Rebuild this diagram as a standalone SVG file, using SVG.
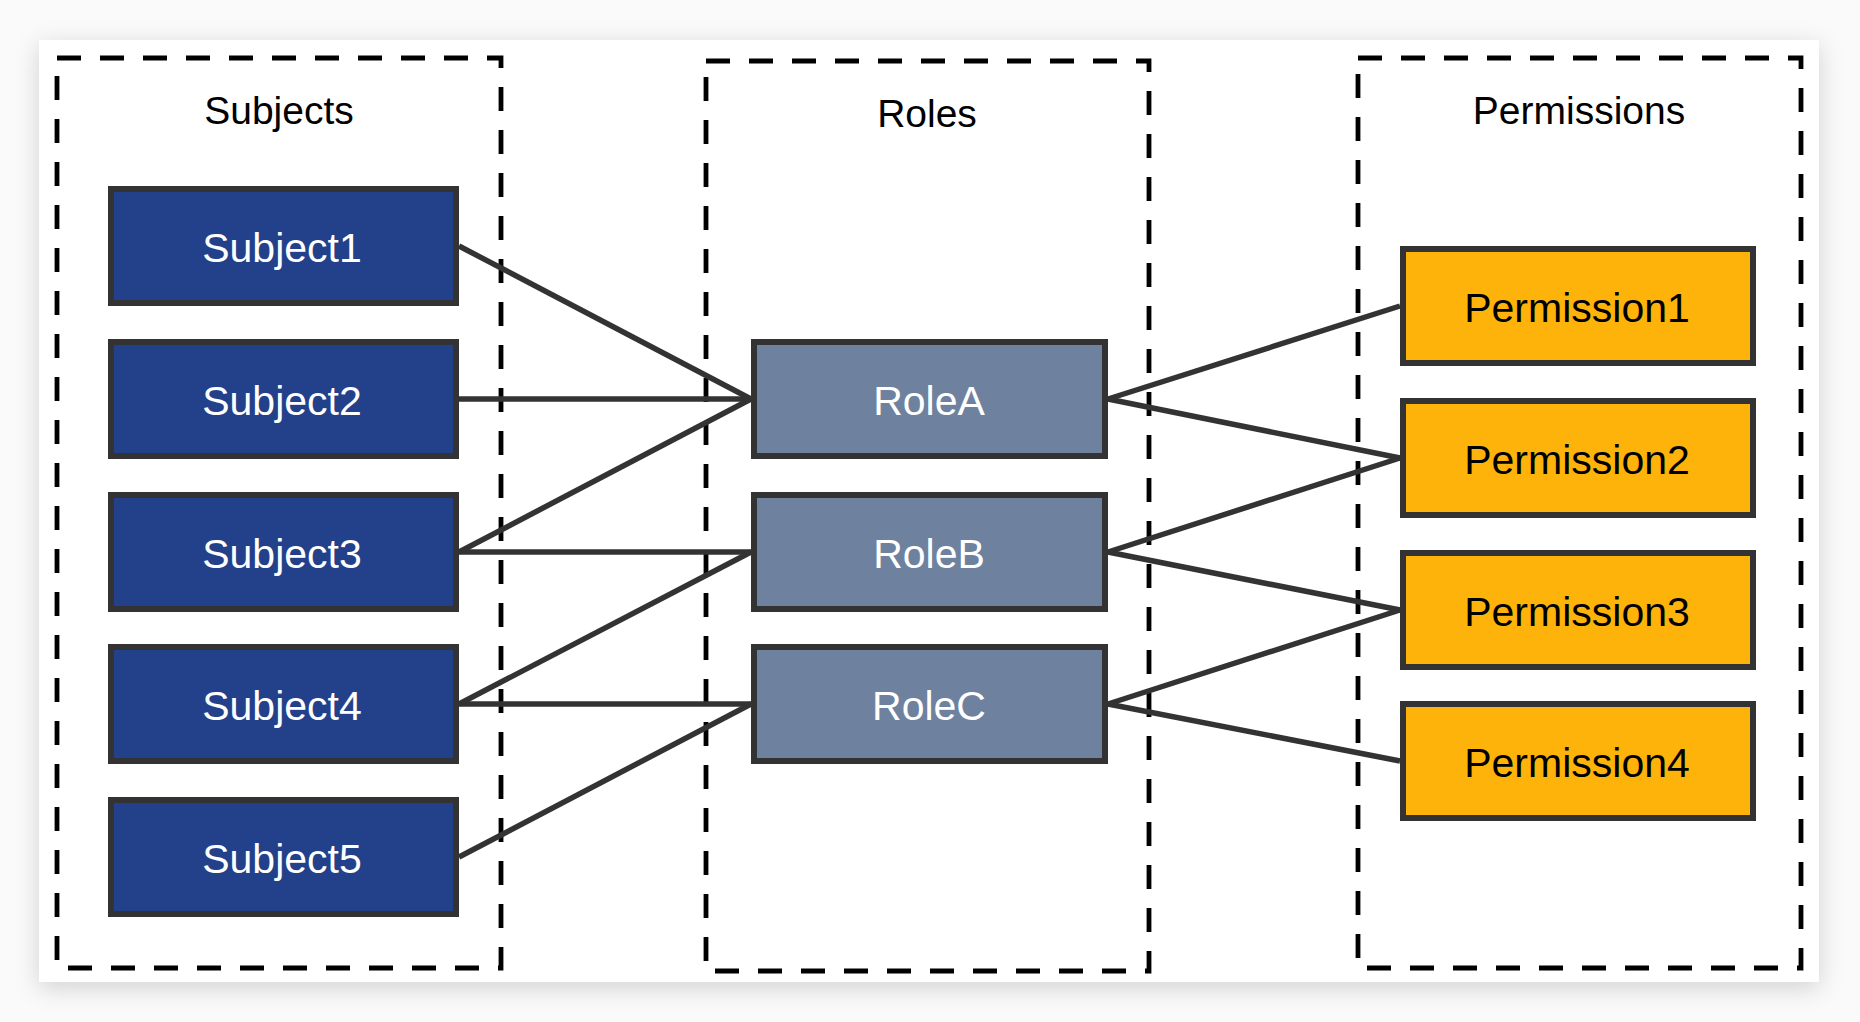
<svg xmlns="http://www.w3.org/2000/svg" width="1860" height="1022" viewBox="0 0 1860 1022">
  <defs>
    <filter id="cardShadow" x="-5%" y="-5%" width="110%" height="115%">
      <feDropShadow dx="0" dy="6" stdDeviation="12" flood-color="#000" flood-opacity="0.16"/>
    </filter>
    <style>
      .group { fill: none; stroke: #000; stroke-width: 4.8; stroke-dasharray: 24 19; }
      .title { font-family: "Liberation Sans", Arial, sans-serif; font-size: 39px; fill: #000; text-anchor: middle; }
      .box { stroke: #333; stroke-width: 6; }
      .subject { fill: #23408a; }
      .role { fill: #6e82a0; }
      .perm { fill: #fdb309; }
      .label { font-family: "Liberation Sans", Arial, sans-serif; font-size: 41px; text-anchor: middle; }
      .light { fill: #fff; }
      .dark { fill: #000; }
      .link { stroke: #333; stroke-width: 5.5; fill: none; }
    </style>
  </defs>

  <!-- page and card -->
  <rect x="0" y="0" width="1860" height="1022" fill="#fafafa"/>
  <rect x="39" y="40" width="1780" height="942" fill="#fff" filter="url(#cardShadow)"/>

  <!-- dashed column frames with titles -->
  <g id="subjects-group">
    <rect class="group" x="57" y="58" width="444" height="910"/>
    <text class="title" x="279" y="124">Subjects</text>
  </g>
  <g id="roles-group">
    <rect class="group" x="706" y="61" width="443" height="910"/>
    <text class="title" x="927" y="127">Roles</text>
  </g>
  <g id="permissions-group">
    <rect class="group" x="1358" y="58" width="443" height="910"/>
    <text class="title" x="1579" y="124">Permissions</text>
  </g>

  <!-- connectors: subjects to roles, roles to permissions -->
  <g id="connectors" class="link">
    <line x1="459" y1="246" x2="751" y2="399"/>
    <line x1="459" y1="399" x2="751" y2="399"/>
    <line x1="459" y1="552" x2="751" y2="399"/>
    <line x1="459" y1="552" x2="751" y2="552"/>
    <line x1="459" y1="704" x2="751" y2="552"/>
    <line x1="459" y1="704" x2="751" y2="704"/>
    <line x1="459" y1="857" x2="751" y2="704"/>

    <line x1="1108" y1="399" x2="1400" y2="306"/>
    <line x1="1108" y1="399" x2="1400" y2="458"/>
    <line x1="1108" y1="552" x2="1400" y2="458"/>
    <line x1="1108" y1="552" x2="1400" y2="610"/>
    <line x1="1108" y1="704" x2="1400" y2="610"/>
    <line x1="1108" y1="704" x2="1400" y2="761"/>
  </g>

  <!-- subjects -->
  <g id="subject1">
    <rect class="box subject" x="111" y="189" width="345" height="114"/>
    <text class="label light" x="282" y="262">Subject1</text>
  </g>
  <g id="subject2">
    <rect class="box subject" x="111" y="342" width="345" height="114"/>
    <text class="label light" x="282" y="415">Subject2</text>
  </g>
  <g id="subject3">
    <rect class="box subject" x="111" y="495" width="345" height="114"/>
    <text class="label light" x="282" y="568">Subject3</text>
  </g>
  <g id="subject4">
    <rect class="box subject" x="111" y="647" width="345" height="114"/>
    <text class="label light" x="282" y="720">Subject4</text>
  </g>
  <g id="subject5">
    <rect class="box subject" x="111" y="800" width="345" height="114"/>
    <text class="label light" x="282" y="873">Subject5</text>
  </g>

  <!-- roles -->
  <g id="roleA">
    <rect class="box role" x="754" y="342" width="351" height="114"/>
    <text class="label light" x="929" y="415">RoleA</text>
  </g>
  <g id="roleB">
    <rect class="box role" x="754" y="495" width="351" height="114"/>
    <text class="label light" x="929" y="568">RoleB</text>
  </g>
  <g id="roleC">
    <rect class="box role" x="754" y="647" width="351" height="114"/>
    <text class="label light" x="929" y="720">RoleC</text>
  </g>

  <!-- permissions -->
  <g id="permission1">
    <rect class="box perm" x="1403" y="249" width="350" height="114"/>
    <text class="label dark" x="1577" y="322">Permission1</text>
  </g>
  <g id="permission2">
    <rect class="box perm" x="1403" y="401" width="350" height="114"/>
    <text class="label dark" x="1577" y="474">Permission2</text>
  </g>
  <g id="permission3">
    <rect class="box perm" x="1403" y="553" width="350" height="114"/>
    <text class="label dark" x="1577" y="626">Permission3</text>
  </g>
  <g id="permission4">
    <rect class="box perm" x="1403" y="704" width="350" height="114"/>
    <text class="label dark" x="1577" y="777">Permission4</text>
  </g>
</svg>
